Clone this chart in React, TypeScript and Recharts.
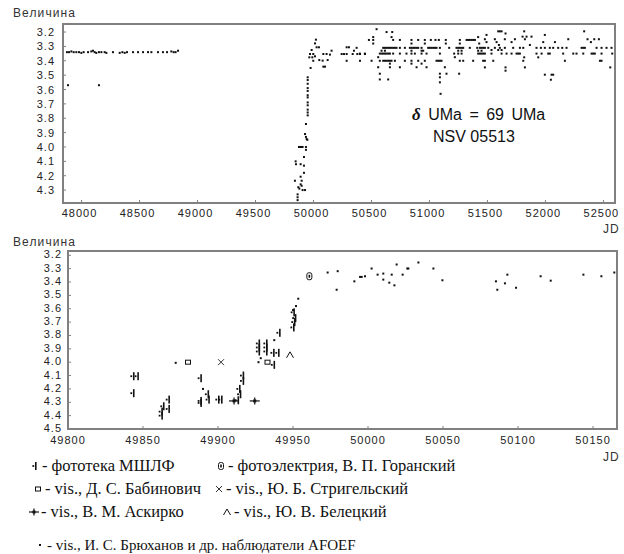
import { ReferenceArea, Scatter, ScatterChart, XAxis, YAxis } from "recharts"

const INK = "#111"
const FRAME = "#808080"
const AXIS_FONT = '"Liberation Sans", Arial, sans-serif'
const SERIF = '"Liberation Serif", "Times New Roman", serif'

// ---- top panel: whole light curve, JD 47840..52600
const topXDomain = [47840, 52600]
const topYDomain = [3.144, 4.39]
const topXTicks = [48000, 48500, 49000, 49500, 50000, 50500, 51000, 51500, 52000, 52500]
const topYTicks = [3.2, 3.3, 3.4, 3.5, 3.6, 3.7, 3.8, 3.9, 4.0, 4.1, 4.2, 4.3]

// [JD, magnitude]
const earlyPlateau: [number, number][] = [
  [47874, 3.34], [47892, 3.34], [47912, 3.335], [47932, 3.34], [47955, 3.34],
  [47978, 3.34], [47998, 3.345], [48018, 3.34], [48056, 3.34], [48084, 3.335],
  [48099, 3.33], [48113, 3.34], [48127, 3.345], [48150, 3.34], [48171, 3.34],
  [48199, 3.34], [48214, 3.345], [48271, 3.34], [48329, 3.345], [48352, 3.34],
  [48372, 3.345], [48392, 3.34], [48444, 3.34], [48487, 3.34], [48530, 3.34],
  [48573, 3.34], [48602, 3.34], [48659, 3.34], [48702, 3.34], [48737, 3.34],
  [48774, 3.335], [48794, 3.34], [48811, 3.34], [48832, 3.33],
  [47883, 3.57], [48150, 3.57],
]

const riseTop: [number, number][] = [
  [49863, 4.33], [49863, 4.35], [49863, 4.37], [49840, 4.235], [49869, 4.28],
  [49878, 4.29], [49889, 4.26], [49898, 4.27], [49906, 4.3], [49927, 4.3],
  [49889, 4.207], [49898, 4.235], [49918, 4.18], [49846, 4.1], [49849, 4.12],
  [49889, 4.12], [49918, 4.13], [49918, 4.07], [49875, 4.0], [49883, 4.0],
  [49892, 4.0], [49900, 4.0], [49906, 4.0], [49935, 4.0], [49935, 4.02],
  [49941, 3.945], [49947, 3.95], [49927, 3.91], [49935, 3.93], [49935, 3.84],
  [49950, 3.78], [49950, 3.76], [49950, 3.74], [49950, 3.71], [49950, 3.69],
  [49950, 3.655], [49950, 3.64], [49950, 3.61], [49950, 3.59], [49950, 3.56],
  [49950, 3.534], [49950, 3.515],
]

const highA: [number, number][] = [
  [50021, 3.253], [50013, 3.279], [49984, 3.325], [50027, 3.306], [50047, 3.306],
  [49970, 3.353], [49998, 3.353], [50013, 3.369], [49964, 3.376], [49990, 3.376],
  [50085, 3.353], [50113, 3.353], [50142, 3.357], [50156, 3.33], [50050, 3.395],
  [50079, 3.399], [50122, 3.395], [49998, 3.4], [49975, 3.45], [50085, 3.441],
  [50099, 3.441], [50243, 3.353], [50263, 3.353], [50286, 3.353], [50286, 3.306],
  [50306, 3.306], [50372, 3.31], [50349, 3.33], [50338, 3.353], [50378, 3.353],
  [50401, 3.353], [50444, 3.353], [50286, 3.4], [50401, 3.4],
]

const highB: [number, number][] = [
  [50544, 3.18], [50630, 3.2], [50679, 3.2],
  [50478, 3.255], [50515, 3.235], [50515, 3.255], [50515, 3.28],
  [50673, 3.235], [50687, 3.255], [50745, 3.255],
  [50845, 3.255], [50903, 3.255], [50960, 3.255], [51012, 3.255], [51052, 3.255],
  [51081, 3.255], [51141, 3.255], [51262, 3.255], [51320, 3.255], [51334, 3.255],
  [51348, 3.255], [51363, 3.255], [51377, 3.255], [51392, 3.255], [51420, 3.235],
  [51492, 3.22], [50845, 3.28], [50960, 3.28], [51141, 3.28], [51262, 3.28],
  [51429, 3.28],
  [50601, 3.31], [50616, 3.31], [50630, 3.31], [50644, 3.31], [50659, 3.31],
  [50673, 3.31], [50687, 3.31], [50702, 3.31], [50716, 3.31], [50745, 3.31],
  [50788, 3.31], [50831, 3.31], [50845, 3.31], [50860, 3.31], [50874, 3.31],
  [50889, 3.31], [50903, 3.31], [50932, 3.31], [50989, 3.31], [51003, 3.31],
  [51017, 3.31], [51032, 3.31], [51047, 3.31], [51061, 3.31], [51090, 3.31],
  [51170, 3.31], [51233, 3.31], [51248, 3.31], [51262, 3.31], [51277, 3.31],
  [51291, 3.31], [51348, 3.31], [51412, 3.31], [51435, 3.31], [51449, 3.31],
  [51463, 3.31],
  [50587, 3.33], [50616, 3.33], [50845, 3.33], [50932, 3.33], [50946, 3.33],
  [51248, 3.33], [51277, 3.33], [51420, 3.33], [51449, 3.33],
  [50400, 3.35], [50443, 3.35], [50572, 3.35], [50587, 3.35], [50601, 3.35],
  [50616, 3.35], [50630, 3.35], [50644, 3.35], [50659, 3.35], [50687, 3.35],
  [50745, 3.35], [50802, 3.35], [50845, 3.35], [50874, 3.35], [50932, 3.35],
  [50975, 3.35], [51090, 3.35], [51213, 3.35], [51248, 3.35], [51277, 3.35],
  [51420, 3.35], [51435, 3.35], [51449, 3.35], [51463, 3.35],
  [50558, 3.375], [51219, 3.375],
  [50501, 3.4], [50572, 3.4], [50601, 3.4], [50616, 3.4], [50630, 3.4],
  [50644, 3.4], [50659, 3.4], [50673, 3.4], [50702, 3.4], [50788, 3.4],
  [50845, 3.4], [50903, 3.4], [50960, 3.4], [51061, 3.4], [51075, 3.4],
  [51090, 3.4], [51104, 3.4], [51262, 3.4], [51291, 3.4], [51377, 3.4],
  [51463, 3.4],
  [50659, 3.42], [50845, 3.42], [50932, 3.42],
  [50558, 3.445], [50659, 3.445], [50745, 3.445], [50889, 3.445], [50975, 3.445],
  [51133, 3.445],
  [50572, 3.49], [51090, 3.49], [51147, 3.49], [51256, 3.49], [51090, 3.515],
  [50572, 3.53], [50644, 3.53], [51090, 3.55], [51096, 3.63],
]

const highC: [number, number][] = [
  [51593, 3.195], [51607, 3.195], [51622, 3.195], [51817, 3.195], [52334, 3.195],
  [51656, 3.21], [51995, 3.22],
  [51803, 3.232], [51837, 3.232], [51880, 3.232],
  [51478, 3.25], [51564, 3.25], [51650, 3.25], [51737, 3.25], [51823, 3.25],
  [52197, 3.25], [52363, 3.25], [52421, 3.25], [52461, 3.25],
  [51492, 3.27], [51579, 3.27], [51708, 3.27], [51981, 3.27], [52082, 3.27],
  [52392, 3.27], [51599, 3.29], [51866, 3.29],
  [51478, 3.31], [51507, 3.31], [51564, 3.31], [51607, 3.31], [51650, 3.31],
  [51722, 3.31], [51780, 3.31], [51809, 3.31], [51923, 3.31], [51961, 3.31],
  [51995, 3.31], [52038, 3.31], [52067, 3.31], [52110, 3.31], [52145, 3.31],
  [52182, 3.31], [52312, 3.31], [52326, 3.31], [52340, 3.31], [52441, 3.31],
  [52484, 3.31], [52527, 3.31], [52570, 3.31],
  [51535, 3.325], [51593, 3.325], [51622, 3.325],
  [51478, 3.35], [51535, 3.35], [51622, 3.35], [51665, 3.35], [51708, 3.35],
  [51751, 3.35], [51765, 3.35], [51780, 3.35], [51923, 3.35], [51967, 3.35],
  [52024, 3.35], [52038, 3.35], [52153, 3.35], [52240, 3.35], [52268, 3.35],
  [52326, 3.35], [52398, 3.35], [52412, 3.35], [52426, 3.35], [52484, 3.35],
  [52576, 3.35],
  [51817, 3.376], [51938, 3.376],
  [51478, 3.4], [51550, 3.4], [51809, 3.4], [52168, 3.4], [52470, 3.4],
  [52484, 3.4],
  [51478, 3.446], [51656, 3.446], [51823, 3.446], [52559, 3.446], [51656, 3.469],
  [51995, 3.497], [52053, 3.497], [52067, 3.497], [52047, 3.532],
]

// ---- bottom panel: the 1995 brightening, JD 49800..50166
const botXDomain = [49800, 50166]
const botYDomain = [3.168, 4.5]
const botXTicks = [49800, 49850, 49900, 49950, 50000, 50050, 50100, 50150]
const botYTicks = [3.2, 3.3, 3.4, 3.5, 3.6, 3.7, 3.8, 3.9, 4.0, 4.1, 4.2, 4.3, 4.4, 4.5]

const platesMSHLF: [number, number][] = [
  [49843.3, 4.105], [49846.2, 4.105], [49843.3, 4.232], [49862.2, 4.37],
  [49862.2, 4.4], [49863.3, 4.33], [49866.9, 4.28], [49866.9, 4.35],
  [49888.2, 4.12], [49888.2, 4.29], [49888.2, 4.305], [49893, 4.24],
  [49893.5, 4.28], [49900, 4.28], [49902, 4.28], [49913, 4.285], [49914, 4.2],
  [49914.5, 4.24], [49916.4, 4.1], [49916.4, 4.14], [49927, 3.86], [49927, 3.89],
  [49927, 3.92], [49932, 3.86], [49932, 3.89], [49932, 3.92], [49936.7, 3.93],
  [49940, 3.93], [49940.7, 3.78], [49937, 4.02], [49950, 3.74], [49950.6, 3.7],
  [49951.2, 3.67], [49950.2, 3.627],
]
const photoelectric: [number, number][] = [[49960.9, 3.357]]
const visBabinovich: [number, number][] = [[49880, 4.0], [49933, 4.0]]
const visStrigelsky: [number, number][] = [[49902, 4.0]]
const visAskirko: [number, number][] = [[49910.7, 4.29], [49924.5, 4.29]]
const visBeletsky: [number, number][] = [[49948, 3.945]]
const visAfoef: [number, number][] = [
  [49871.8, 4.005], [49890, 4.2], [49927, 4.0], [49928.5, 3.97], [49937.5, 3.835],
  [49950, 3.61], [49952, 3.58], [49953.5, 3.525],
  [49973.1, 3.329], [49979.8, 3.319], [49979.1, 3.458], [49990.9, 3.395],
  [49994.7, 3.362], [49995.8, 3.362], [49998, 3.357], [50002.4, 3.299],
  [50006.4, 3.345], [50010.2, 3.337], [50010.2, 3.382], [50014.2, 3.405],
  [50015.8, 3.345], [50017.6, 3.425], [50019.1, 3.269], [50023.1, 3.345],
  [50026.2, 3.299], [50026.9, 3.299], [50033.6, 3.254], [50043.6, 3.299],
  [50049.6, 3.387], [50085.3, 3.395], [50086.2, 3.458], [50091.3, 3.41],
  [50092.9, 3.345], [50098.7, 3.443], [50115.1, 3.357], [50121.8, 3.39],
  [50143.6, 3.345], [50155.6, 3.357], [50164.2, 3.329],
]

const pts = (a: [number, number][]) => a.map(([jd, mag]) => ({ jd, mag }))

// ---- marker shapes
const Dot = ({ cx, cy }: any) => <rect x={cx - 1} y={cy - 1} width={2} height={2} fill={INK} />

const PlateMark = ({ cx, cy }: any) => (
  <g fill={INK}>
    <rect x={cx} y={cy - 4} width={1.6} height={8} />
    <rect x={cx - 2.6} y={cy - 0.9} width={1.8} height={1.8} />
  </g>
)

const PhotoMark = ({ cx, cy }: any) => (
  <g fill="none" stroke={INK} strokeWidth={1}>
    <rect x={cx - 2.5} y={cy - 3.5} width={5} height={7} rx={2} />
    <line x1={cx} y1={cy - 1.5} x2={cx} y2={cy + 1.5} strokeWidth={1.6} />
  </g>
)

const SquareMark = ({ cx, cy }: any) => (
  <rect x={cx - 2.5} y={cy - 2} width={5} height={4} fill="none" stroke={INK} strokeWidth={1} />
)

const CrossMark = ({ cx, cy }: any) => (
  <g stroke="#333" strokeWidth={1}>
    <line x1={cx - 3} y1={cy - 3} x2={cx + 3} y2={cy + 3} />
    <line x1={cx - 3} y1={cy + 3} x2={cx + 3} y2={cy - 3} />
  </g>
)

const PlusMark = ({ cx, cy }: any) => (
  <g stroke={INK}>
    <line x1={cx - 5} y1={cy} x2={cx + 5} y2={cy} strokeWidth={1.2} />
    <line x1={cx} y1={cy - 3.5} x2={cx} y2={cy + 3.5} strokeWidth={1.2} />
    <rect x={cx - 1.5} y={cy - 1.5} width={3} height={3} fill={INK} stroke="none" />
  </g>
)

const LambdaMark = ({ cx, cy }: any) => (
  <g stroke={INK} strokeWidth={1} fill="none">
    <polyline points={`${cx - 3.5},${cy + 3} ${cx},${cy - 3} ${cx + 3.5},${cy + 3}`} />
  </g>
)

// ---- axis ticks (inward tick marks, labels outside)
function XTick({ x, y, payload, shift = 0, drop = 14 }: any) {
  return (
    <g>
      <line x1={x} y1={y} x2={x} y2={y - 3} stroke={FRAME} />
      <text x={x + shift} y={y + drop} textAnchor="middle" fontSize={11} letterSpacing={1} fontFamily={AXIS_FONT} fill="#222">
        {payload.value}
      </text>
    </g>
  )
}

function YTick({ x, y, payload, gap = 8, lift = 4 }: any) {
  return (
    <g>
      <line x1={x} y1={y} x2={x + 3} y2={y} stroke={FRAME} />
      <text x={x - gap} y={y + lift} textAnchor="end" fontSize={11} letterSpacing={1} fontFamily={AXIS_FONT} fill="#222">
        {Number(payload.value).toFixed(1)}
      </text>
    </g>
  )
}

const textStyle = (left: number, top: number, extra: any = {}) => ({
  position: "absolute" as const,
  left,
  top,
  whiteSpace: "nowrap" as const,
  ...extra,
})

function LegendItem({ left, top, Mark, label, size = 16.5 }: any) {
  return (
    <div style={textStyle(left, top, { display: "flex", alignItems: "center", fontFamily: SERIF, fontSize: size, lineHeight: "18px", color: "#111" })}>
      <svg width={10} height={12} style={{ marginRight: 2 }}>
        <Mark cx={5} cy={6} />
      </svg>
      <span>{label}</span>
    </div>
  )
}

const titleStyle = { fontFamily: AXIS_FONT, fontSize: 12, letterSpacing: 1.1, color: "#333" }

export default function App() {
  return (
    <div style={{ position: "absolute", left: 0, top: 0, width: 624, height: 554, background: "#fff", overflow: "hidden" }}>
      <div style={{ position: "absolute", left: 0, top: 0 }}>
        <ScatterChart width={624} height={230} margin={{ top: 24, right: 9, bottom: 7, left: 0 }}>
          <XAxis
            type="number"
            dataKey="jd"
            domain={topXDomain}
            ticks={topXTicks}
            allowDataOverflow
            interval={0}
            height={20}
            tickSize={0}
            tickMargin={0}
            tickLine={false}
            axisLine={false}
            tick={<XTick shift={-2} />}
          />
          <YAxis
            type="number"
            dataKey="mag"
            reversed
            domain={topYDomain}
            ticks={topYTicks}
            allowDataOverflow
            interval={0}
            width={63}
            tickSize={0}
            tickMargin={0}
            tickLine={false}
            axisLine={false}
            tick={<YTick gap={8} />}
          />
          <ReferenceArea x1={topXDomain[0]} x2={topXDomain[1]} y1={topYDomain[0]} y2={topYDomain[1]} fill="none" stroke={FRAME} strokeWidth={2} ifOverflow="visible" />
          <Scatter data={pts(earlyPlateau)} shape={Dot} isAnimationActive={false} />
          <Scatter data={pts(riseTop)} shape={Dot} isAnimationActive={false} />
          <Scatter data={pts(highA)} shape={Dot} isAnimationActive={false} />
          <Scatter data={pts(highB)} shape={Dot} isAnimationActive={false} />
          <Scatter data={pts(highC)} shape={Dot} isAnimationActive={false} />
        </ScatterChart>
      </div>

      <div style={{ position: "absolute", left: 0, top: 230 }}>
        <ScatterChart width={624} height={230} margin={{ top: 21, right: 7, bottom: 11, left: 0 }}>
          <XAxis
            type="number"
            dataKey="jd"
            domain={botXDomain}
            ticks={botXTicks}
            allowDataOverflow
            interval={0}
            height={20}
            tickSize={0}
            tickMargin={0}
            tickLine={false}
            axisLine={false}
            tick={<XTick drop={15} />}
          />
          <YAxis
            type="number"
            dataKey="mag"
            reversed
            domain={botYDomain}
            ticks={botYTicks}
            allowDataOverflow
            interval={0}
            width={68}
            tickSize={0}
            tickMargin={0}
            tickLine={false}
            axisLine={false}
            tick={<YTick gap={6} lift={3} />}
          />
          <ReferenceArea x1={botXDomain[0]} x2={botXDomain[1]} y1={botYDomain[0]} y2={botYDomain[1]} fill="none" stroke={FRAME} strokeWidth={2} ifOverflow="visible" />
          <Scatter data={pts(visAfoef)} shape={Dot} isAnimationActive={false} />
          <Scatter data={pts(platesMSHLF)} shape={PlateMark} isAnimationActive={false} />
          <Scatter data={pts(photoelectric)} shape={PhotoMark} isAnimationActive={false} />
          <Scatter data={pts(visBabinovich)} shape={SquareMark} isAnimationActive={false} />
          <Scatter data={pts(visStrigelsky)} shape={CrossMark} isAnimationActive={false} />
          <Scatter data={pts(visAskirko)} shape={PlusMark} isAnimationActive={false} />
          <Scatter data={pts(visBeletsky)} shape={LambdaMark} isAnimationActive={false} />
        </ScatterChart>
      </div>

      {/* axis titles */}
      <div style={textStyle(13, 6, titleStyle)}>Величина</div>
      <div style={textStyle(13, 235, titleStyle)}>Величина</div>
      <div style={textStyle(603, 222, titleStyle)}>JD</div>
      <div style={textStyle(603, 450, titleStyle)}>JD</div>

      {/* star designation */}
      <div style={textStyle(412, 105, { fontFamily: AXIS_FONT, fontSize: 16, wordSpacing: 3, color: "#111", lineHeight: "19px" })}>
        <span style={{ fontFamily: SERIF, fontStyle: "italic", fontWeight: "bold", fontSize: 17 }}>δ</span> UMa = 69 UMa
      </div>
      <div style={textStyle(433, 127, { fontFamily: AXIS_FONT, fontSize: 16, color: "#111", lineHeight: "19px" })}>NSV 05513</div>

      {/* legend */}
      <LegendItem left={30} top={457} Mark={PlateMark} label="- фототека МШЛФ" />
      <LegendItem left={216} top={457} Mark={PhotoMark} label="- фотоэлектрия, В. П. Горанский" />
      <LegendItem left={33} top={480} Mark={SquareMark} label="- vis., Д. С. Бабинович" />
      <LegendItem left={214} top={480} Mark={CrossMark} label="- vis., Ю. Б. Стригельский" />
      <LegendItem left={29} top={503} Mark={PlusMark} label="- vis., В. М. Аскирко" />
      <LegendItem left={222} top={503} Mark={LambdaMark} label="- vis., Ю. В. Белецкий" />
      <LegendItem left={35} top={536} Mark={Dot} size={15} label="- vis., И. С. Брюханов и др. наблюдатели AFOEF" />
    </div>
  )
}
